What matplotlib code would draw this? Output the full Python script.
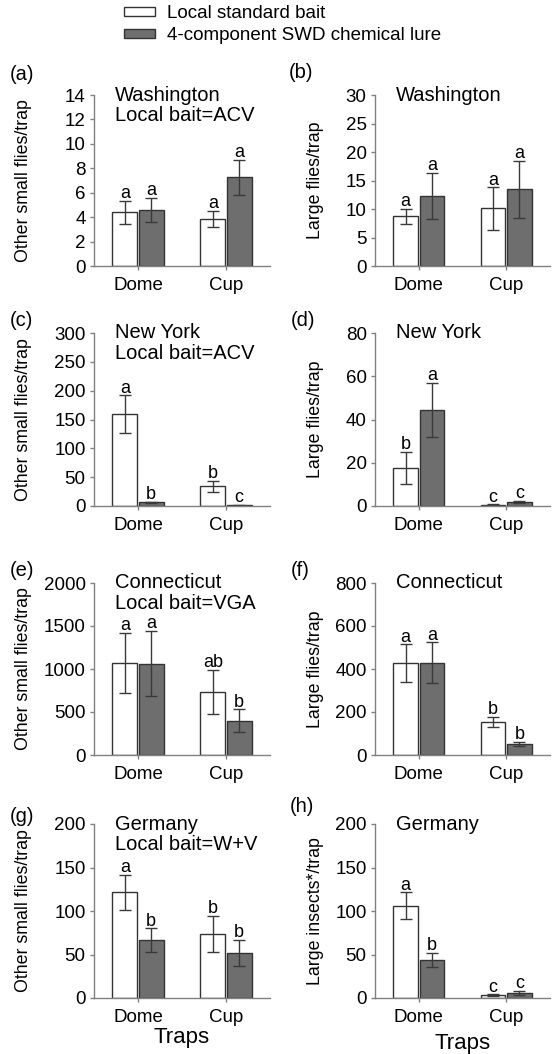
import numpy as np
import matplotlib.pyplot as plt
from matplotlib.patches import Patch

plt.rcParams['font.family'] = ['Liberation Sans', 'DejaVu Sans']

traps = ['Dome', 'Cup']
panel_ids = ['a', 'b', 'c', 'd', 'e', 'f', 'g', 'h']
sites = ['Washington', 'Washington', 'New York', 'New York',
         'Connecticut', 'Connecticut', 'Germany', 'Germany']
baits = ['ACV', None, 'ACV', None, 'VGA', None, 'W+V', None]
ylabels = ['Other small flies/trap', 'Large flies/trap'] * 3 + \
          ['Other small flies/trap', 'Large insects*/trap']
ymax = [14, 30, 300, 80, 2000, 800, 200, 200]
ystep = [2, 5, 50, 20, 500, 200, 50, 50]

# [Dome, Cup] per panel
local_mean = [[4.4, 3.85], [8.7, 10.1], [159, 34], [17.6, 0.5],
              [1073, 734], [426, 154], [121.5, 73.8], [105.8, 3.1]]
local_se = [[0.93, 0.65], [1.3, 3.7], [33, 10], [7.6, 0.2],
            [350, 255], [88, 22], [20, 20.5], [15.5, 1.0]]
lure_mean = [[4.6, 7.25], [12.3, 13.5], [6.4, 1.2], [44.5, 1.85],
             [1062, 398], [429, 51], [66.5, 52], [43.5, 5.8]]
lure_se = [[1.0, 1.45], [4.0, 5.0], [1.2, 0.4], [12.5, 0.5],
           [380, 132], [95, 11], [13.5, 15], [8.3, 2.0]]
local_letters = [['a', 'a'], ['a', 'a'], ['a', 'b'], ['b', 'c'],
                 ['a', 'ab'], ['a', 'b'], ['a', 'b'], ['a', 'c']]
lure_letters = [['a', 'a'], ['a', 'a'], ['b', 'c'], ['a', 'c'],
                ['a', 'b'], ['a', 'b'], ['b', 'b'], ['b', 'c']]

W, H = 555, 1054
fig = plt.figure(figsize=(W / 100, H / 100), dpi=100)

# axes boxes in pixels: (left, right) per column, (top, bottom) per row
cols = [(94, 270), (375, 550)]
rows = [(95, 266), (333, 506), (583, 755), (824, 998)]
label_pos = [[(10, 74), (289, 73)], [(10, 320), (291, 321)],
             [(10, 570), (291, 570)], [(10, 816), (290, 806)]]

axis_col = '#808080'
edge_col = '#333333'
dark = '#6e6e6e'
x = np.arange(len(traps))
bw = 0.28
off = 0.15

for i in range(8):
    r, c = divmod(i, 2)
    l, rgt = cols[c]
    t, b = rows[r]
    ax = fig.add_axes([l / W, 1 - b / H, (rgt - l) / W, (b - t) / H])

    ax.bar(x - off, local_mean[i], bw, color='white', edgecolor=edge_col, lw=1)
    ax.bar(x + off, lure_mean[i], bw, color=dark, edgecolor=edge_col, lw=1)
    ax.errorbar(x - off, local_mean[i], yerr=local_se[i], fmt='none',
                ecolor='#3a3a3a', elinewidth=1, capsize=4.5, capthick=1)
    ax.errorbar(x + off, lure_mean[i], yerr=lure_se[i], fmt='none',
                ecolor='#3a3a3a', elinewidth=1, capsize=4.5, capthick=1)

    for j in range(len(traps)):
        ax.annotate(local_letters[i][j], (x[j] - off, local_mean[i][j] + local_se[i][j]),
                    xytext=(0, 2), textcoords='offset points',
                    ha='center', va='baseline', fontsize=13)
        ax.annotate(lure_letters[i][j], (x[j] + off, lure_mean[i][j] + lure_se[i][j]),
                    xytext=(0, 2), textcoords='offset points',
                    ha='center', va='baseline', fontsize=13)

    ax.set_xlim(-0.5, 1.5)
    ax.set_ylim(0, ymax[i])
    ax.set_yticks(np.arange(0, ymax[i] + 1, ystep[i]))
    ax.set_xticks(x)
    ax.set_xticklabels(traps)
    ax.tick_params(labelsize=13.5, length=3, width=1, color=axis_col, pad=3)
    ax.tick_params(axis='x', pad=5)
    for s in ['top', 'right']:
        ax.spines[s].set_visible(False)
    for s in ['left', 'bottom']:
        ax.spines[s].set_color(axis_col)
        ax.spines[s].set_linewidth(1)

    ax.set_ylabel(ylabels[i], fontsize=12.8)
    ax.yaxis.set_label_coords(-0.35 if c == 0 else -0.29, 0.5)

    ax.text(0.12, 1.0, sites[i], transform=ax.transAxes, fontsize=14.5,
            ha='left', va='center')
    if baits[i]:
        ax.text(0.12, 0.88, f'Local bait={baits[i]}', transform=ax.transAxes,
                fontsize=14.5, ha='left', va='center')

    if r == 3:
        ax.set_xlabel('Traps', fontsize=16, labelpad=1 if c == 0 else 5)

    px, py = label_pos[r][c]
    fig.text(px / W, 1 - py / H, f'({panel_ids[i]})', fontsize=14.5,
             ha='left', va='center')

handles = [Patch(facecolor='white', edgecolor=edge_col, lw=1),
           Patch(facecolor=dark, edgecolor=edge_col, lw=1)]
fig.legend(handles, ['Local standard bait', '4-component SWD chemical lure'],
           loc='center left', bbox_to_anchor=(115 / W, 1 - 24.5 / H),
           frameon=False, fontsize=13.5, borderpad=0, handlelength=1.65,
           handleheight=0.37, handletextpad=0.6, labelspacing=0.25)

fig.savefig('out.png', dpi=100)
